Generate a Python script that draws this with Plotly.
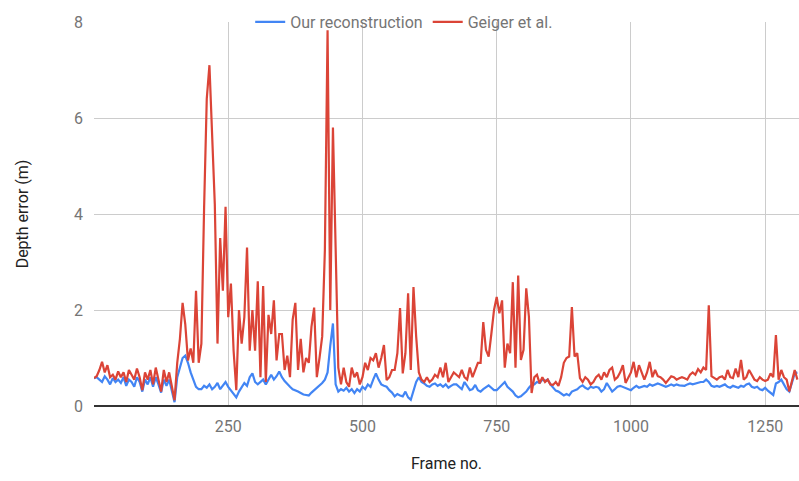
import plotly.graph_objects as go

frames = list(range(0, 1311, 5))

geiger_depth = [
    0.58, 0.62, 0.75, 0.92, 0.7, 0.85, 0.6, 0.65, 0.55, 0.72,
    0.6, 0.7, 0.5, 0.75, 0.65, 0.55, 0.78, 0.6, 0.33, 0.7,
    0.55, 0.75, 0.45, 0.8, 0.55, 0.3, 0.75, 0.5, 0.7, 0.4,
    0.12, 0.9, 1.4, 2.15, 1.7, 0.95, 1.2, 0.9, 2.4, 0.9,
    1.3, 4.1, 6.4, 7.1, 5.7, 4.2, 1.3, 3.5, 2.4, 4.15,
    1.85, 2.55, 1.15, 0.33, 2.0, 1.3, 1.85, 3.3, 1.15, 2.0,
    1.15, 2.6, 0.6, 2.5, 0.5, 1.9, 1.5, 2.2, 0.95, 1.5,
    1.5, 0.75, 1.05, 0.6, 1.8, 2.15, 0.75, 1.4, 0.7, 1.0,
    0.9, 1.65, 2.05, 0.6, 1.0, 1.45, 3.25, 7.83, 2.0, 5.8,
    3.3, 0.8, 0.45, 0.8, 0.5, 0.4, 0.8, 0.6, 0.7, 0.45,
    0.6, 0.9, 0.75, 1.0, 0.95, 1.1, 0.8, 1.0, 1.27, 0.54,
    0.6, 0.75, 0.75, 1.1, 2.04, 0.68, 1.1, 2.35, 0.75, 2.48,
    1.45, 0.7, 0.55, 0.5, 0.6, 0.5, 0.55, 0.65, 0.6, 0.8,
    0.6, 0.9, 0.5, 0.6, 0.7, 0.65, 0.6, 0.75, 0.6, 0.55,
    0.8, 0.6, 0.75, 0.9, 0.9, 1.75, 1.17, 1.03, 1.5, 2.0,
    2.27, 1.93, 2.2, 0.8, 1.3, 1.1, 2.58, 0.8, 2.72, 0.96,
    1.17, 2.45, 1.86, 0.27, 0.6, 0.65, 0.47, 0.6, 0.5, 0.55,
    0.45, 0.44, 0.5, 0.42, 0.6, 0.9, 1.0, 1.03, 2.06, 1.03,
    1.1, 0.58, 0.5, 0.6, 0.55, 0.45, 0.5, 0.6, 0.65, 0.55,
    0.7, 0.6, 0.75, 0.8, 0.55, 0.6, 0.7, 0.85, 0.48, 0.6,
    0.7, 0.92, 0.6, 0.85, 0.7, 0.55, 0.7, 0.92, 0.6, 0.75,
    0.62, 0.6, 0.55, 0.48, 0.55, 0.62, 0.6, 0.55, 0.58, 0.6,
    0.58, 0.55, 0.65, 0.7, 0.65, 0.77, 0.7, 0.8, 0.75, 2.1,
    0.62, 0.58, 0.55, 0.6, 0.62, 0.55, 0.75, 0.6, 0.58, 0.78,
    0.6, 0.96, 0.55, 0.6, 0.75, 0.65, 0.55, 0.52, 0.6, 0.55,
    0.52, 0.55, 0.68, 0.6, 1.48, 0.55, 0.75, 0.6, 0.55, 0.3,
    0.5, 0.75, 0.55,
]

ours_depth = [
    0.58, 0.6, 0.55, 0.5, 0.62, 0.55, 0.45, 0.58, 0.5, 0.55,
    0.48, 0.6, 0.42, 0.55, 0.5, 0.4, 0.6, 0.5, 0.3, 0.55,
    0.45, 0.6, 0.4, 0.6, 0.45, 0.28, 0.55, 0.42, 0.55, 0.3,
    0.08, 0.6, 0.8, 1.0, 1.05, 0.9, 0.7, 0.55, 0.4, 0.35,
    0.35, 0.42, 0.38, 0.45, 0.35, 0.4, 0.48, 0.35, 0.42, 0.5,
    0.4, 0.32, 0.25, 0.18, 0.3, 0.4, 0.48, 0.42, 0.6, 0.68,
    0.5, 0.45, 0.5, 0.55, 0.45, 0.55, 0.65, 0.55, 0.62, 0.72,
    0.6, 0.52, 0.45, 0.4, 0.35, 0.33, 0.3, 0.27, 0.24, 0.23,
    0.22, 0.28, 0.33, 0.38, 0.42, 0.48, 0.55, 0.7, 1.25, 1.72,
    0.45, 0.3, 0.35, 0.32, 0.38, 0.3, 0.35, 0.27, 0.35, 0.3,
    0.4, 0.35, 0.45, 0.4, 0.55, 0.68, 0.55, 0.45, 0.42, 0.4,
    0.33, 0.28, 0.2, 0.25, 0.22, 0.2, 0.3, 0.18, 0.13, 0.3,
    0.5, 0.6, 0.5, 0.47, 0.42, 0.4, 0.45, 0.47, 0.42, 0.45,
    0.4, 0.45, 0.38, 0.42, 0.45, 0.45, 0.4, 0.35, 0.5, 0.4,
    0.33, 0.35, 0.44, 0.33, 0.3, 0.35, 0.4, 0.43, 0.38, 0.33,
    0.33, 0.38, 0.45, 0.5, 0.4, 0.35, 0.3, 0.22, 0.18, 0.2,
    0.25, 0.3, 0.38, 0.44, 0.45, 0.5, 0.48, 0.55, 0.52, 0.55,
    0.45, 0.38, 0.32, 0.3, 0.25, 0.22, 0.25, 0.22, 0.3, 0.32,
    0.35, 0.4, 0.43, 0.38, 0.35, 0.4, 0.38, 0.4, 0.38, 0.3,
    0.35, 0.48, 0.38, 0.3, 0.35, 0.4, 0.42, 0.4, 0.38, 0.35,
    0.33, 0.38, 0.42, 0.38, 0.4, 0.42, 0.4, 0.45, 0.42, 0.45,
    0.47, 0.45, 0.42, 0.4, 0.42, 0.45, 0.42, 0.45, 0.43, 0.42,
    0.42, 0.45, 0.47, 0.45, 0.47, 0.48, 0.5, 0.5, 0.55, 0.5,
    0.42, 0.4, 0.42, 0.4, 0.42, 0.45, 0.4, 0.38, 0.42, 0.4,
    0.38, 0.42, 0.4, 0.45, 0.47, 0.4, 0.38, 0.4, 0.35, 0.33,
    0.38, 0.32, 0.28, 0.23, 0.47, 0.5, 0.55, 0.45, 0.35, 0.3,
    0.5, 0.68, 0.7,
]

x_ticks = [250, 500, 750, 1000, 1250]
y_ticks = [0, 2, 4, 6, 8]

assert len(frames) == len(geiger_depth) == len(ours_depth)

FONT = "Roboto, Arial, sans-serif"
GRAY = "#757575"

fig = go.Figure()
fig.add_trace(go.Scatter(x=frames, y=ours_depth, mode="lines",
                         name="Our reconstruction",
                         line=dict(color="#4285F4", width=2.2)))
fig.add_trace(go.Scatter(x=frames, y=geiger_depth, mode="lines",
                         name="Geiger et al.",
                         line=dict(color="#DB4437", width=2.2)))

fig.update_layout(
    width=799, height=481,
    margin=dict(l=94, r=0, t=22, b=75),
    paper_bgcolor="white", plot_bgcolor="white",
    font=dict(family=FONT, size=16, color=GRAY),
    legend=dict(orientation="h", x=0.44, xanchor="center", y=1.0, yanchor="middle",
                bgcolor="rgba(0,0,0,0)", font=dict(size=16, color=GRAY),
                itemwidth=30, traceorder="normal"),
    xaxis=dict(range=[0, 1313], tickvals=x_ticks, showgrid=True, gridcolor="#cccccc",
               gridwidth=1, zeroline=False, showline=False, ticks="",
               ticklabelstandoff=9, automargin=False,
               title=dict(text="Frame no.", font=dict(size=16, color="#222222"), standoff=22)),
    yaxis=dict(range=[0, 8], tickvals=y_ticks, showgrid=True, gridcolor="#cccccc",
               gridwidth=1, zeroline=True, zerolinecolor="#333333", zerolinewidth=2,
               ticks="", ticklabelstandoff=10, automargin=False,
               title=dict(text="Depth error (m)", font=dict(size=16, color="#222222"), standoff=41)),
)

fig.write_html(
    "out.html",
    config={"displayModeBar": False},
    post_script="document.body.style.margin='0';document.body.style.overflow='hidden';",
)
